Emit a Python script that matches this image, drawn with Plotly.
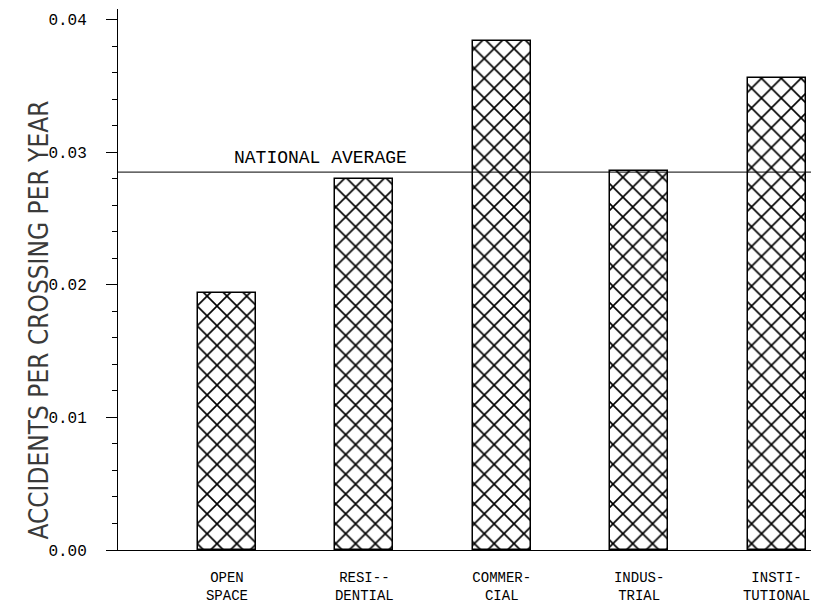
import plotly.graph_objects as go

categories = ["OPEN<br>SPACE", "RESI--<br>DENTIAL", "COMMER-<br>CIAL", "INDUS-<br>TRIAL", "INSTI-<br>TUTIONAL"]
values = [0.0194, 0.0280, 0.0384, 0.0286, 0.0356]
national_average = 0.0285
y_ticks = [0.00, 0.01, 0.02, 0.03, 0.04]
y_tick_labels = ["0.00", "0.01", "0.02", "0.03", "0.04"]

positions = list(range(len(categories)))
mono = "Liberation Mono, DejaVu Sans Mono, monospace"

fig = go.Figure()
fig.add_trace(go.Bar(
    x=positions, y=values, width=0.422,
    marker=dict(color="white", line=dict(color="black", width=1.5),
                pattern=dict(shape="x", size=14, solidity=0.22, fgcolor="black", fgopacity=1, bgcolor="white")),
    showlegend=False, hoverinfo="skip",
))
fig.add_trace(go.Scatter(
    x=[-0.793, 4.28], y=[national_average, national_average], mode="lines",
    line=dict(color="black", width=1), showlegend=False, hoverinfo="skip",
))

fig.add_annotation(x=0.684, y=national_average, xref="x", yref="y", yshift=14,
                   text="NATIONAL AVERAGE", showarrow=False,
                   font=dict(family=mono, size=18, color="black"))
fig.add_annotation(x=0, xref="paper", xanchor="center", xshift=-79, y=0.0173, yref="y", textangle=-90,
                   text="ACCIDENTS PER CROSSING PER YEAR", showarrow=False,
                   font=dict(family="Liberation Sans Narrow, DejaVu Sans Condensed, Liberation Sans", size=26, color="#3a3a3a"))

fig.update_layout(
    width=811, height=598,
    margin=dict(l=110, r=4, t=1, b=56),
    plot_bgcolor="white", paper_bgcolor="white",
    bargap=0,
)
fig.update_xaxes(
    range=[-0.793, 4.28], tickmode="array", tickvals=positions, ticktext=categories,
    showline=True, linecolor="black", linewidth=1, showgrid=False, zeroline=False,
    ticks="outside", ticklen=14, tickcolor="rgba(0,0,0,0)", automargin=False,
    tickfont=dict(family=mono, size=14, color="black"),
)
fig.update_yaxes(
    range=[0, 0.0408], tickmode="array", tickvals=y_ticks, ticktext=y_tick_labels,
    showline=True, linecolor="black", linewidth=1, showgrid=False, zeroline=False,
    ticks="outside", ticklen=11, tickcolor="black", tickwidth=1, automargin=False,
    ticklabelstandoff=16,
    minor=dict(dtick=0.002, ticks="outside", ticklen=5, tickcolor="black", tickwidth=1),
    tickfont=dict(family=mono, size=16, color="black"),
)

fig.write_html("out.html")
